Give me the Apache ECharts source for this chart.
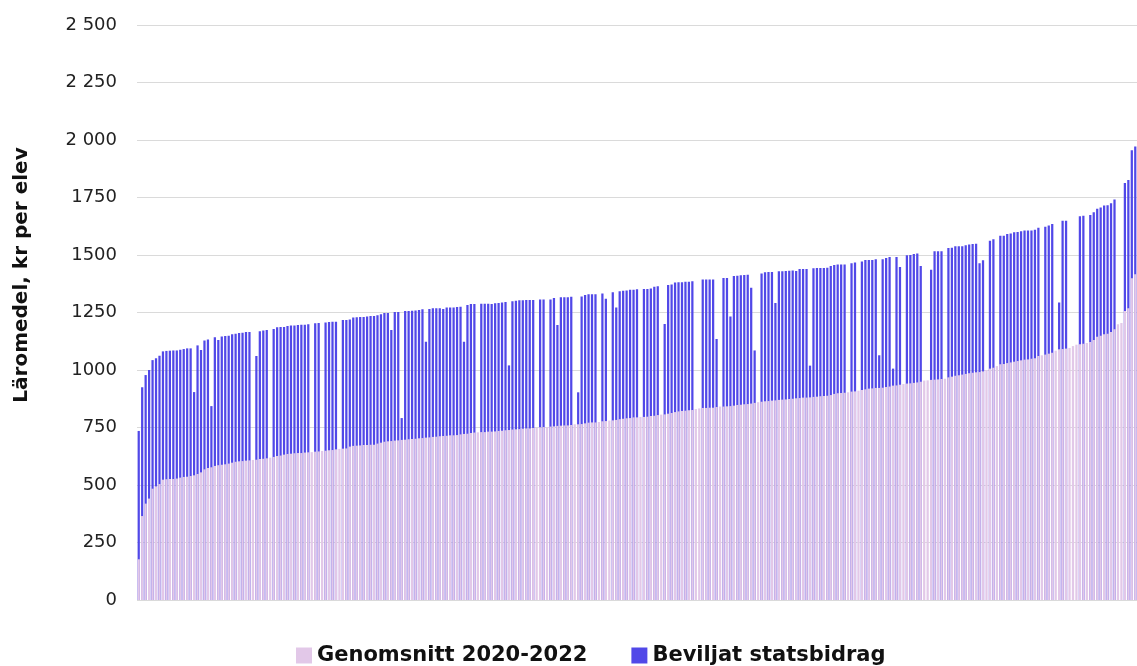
<!DOCTYPE html>
<html>
<head>
<meta charset="utf-8">
<script src="https://cdn.jsdelivr.net/npm/echarts@6/dist/echarts.min.js"></script>
<style>
  html, body { margin: 0; padding: 0; background: #fff; }
  #main { width: 1137px; height: 666px; }
</style>
</head>
<body>
<div id="main"></div>
<script>
// Genomsnitt 2020-2022 (kr per elev), one value per kommun, sorted
var genomsnitt = [
  177,365,419,441,484,494,504,523,525,526,526,528,532,535,536,539,542,548,555,568,574,577,583,586,588,590,593,597,
  601,603,604,606,607,609,610,613,614,616,619,622,626,628,632,635,636,638,639,639,641,642,643,645,646,648,649,651,652,
  655,657,658,659,667,670,671,672,674,674,675,675,680,684,688,690,691,693,694,696,697,699,700,701,703,704,706,707,709,
  710,712,713,714,716,716,717,720,722,723,726,728,729,730,730,732,732,733,735,736,738,739,741,742,743,745,746,746,748,
  749,751,752,752,754,755,757,758,759,759,761,764,764,765,768,771,772,772,774,777,778,780,781,783,786,788,790,791,794,
  794,796,796,797,800,801,804,806,807,810,813,817,820,822,823,825,826,830,833,835,835,836,836,839,841,841,842,843,845,
  848,849,851,852,854,857,860,862,864,865,867,868,870,871,872,874,875,877,878,880,880,881,883,884,886,887,888,891,896,899,
  900,901,903,906,907,910,913,916,919,920,922,922,923,926,928,932,933,936,939,941,942,944,946,949,954,955,957,958,959,
  961,962,968,971,975,977,980,983,986,988,990,991,994,1000,1006,1010,1017,1025,1026,1030,1033,1036,1039,1042,1045,1046,1049,1051,
  1061,1064,1067,1071,1075,1084,1090,1091,1093,1096,1104,1110,1112,1114,1117,1122,1130,1145,1149,1155,1158,1165,1177,1199,1204,1257,1268,1399,1416
];

// Genomsnitt + beviljat statsbidrag (top of the blue bar), null = inget bidrag
var medBidrag = [
  735,925,978,1000,1043,1051,1062,1081,1083,1084,1085,1085,1088,1091,1094,1094,904,1107,1087,1128,1133,843,1142,1130,1146,1148,1149,1155,
  1158,1161,1162,1165,1165,null,1061,1168,1172,1174,null,1178,1186,1187,1187,1191,1193,1194,1196,1197,1197,1199,null,1203,1204,null,1207,1209,1210,
  1210,null,1217,1217,1220,1228,1229,1230,1230,1233,1235,1235,1238,1242,1248,1248,1174,1252,1252,791,1257,1257,1258,1259,1261,1264,1123,1265,1268,
  1268,1268,1265,1272,1272,1272,1274,1275,1123,1283,1287,1287,null,1288,1288,1288,1287,1290,1291,1294,1296,1020,1299,1301,1303,1303,1304,1304,1304,
  null,1307,1307,null,1307,1313,1196,1316,1316,1316,1319,null,903,1320,1326,1329,1329,1329,null,1333,1310,null,1338,1272,1342,1345,1346,1349,1349,
  1351,null,1352,1352,1354,1362,1364,null,1200,1370,1372,1380,1381,1381,1384,1384,1386,null,null,1394,1394,1394,1394,1135,null,1400,1400,1233,1409,
  1410,1412,1413,1414,1358,1085,null,1420,1425,1426,1426,1291,1429,1429,1430,1432,1433,1430,1439,1439,1439,1019,1442,1443,1443,1443,1445,1452,1457,1459,
  1459,1459,null,1464,1467,null,1472,1478,1478,1478,1481,1064,1481,1487,1491,1006,1491,1448,null,1499,1500,1504,1507,1452,null,null,1436,1516,1516,
  1516,null,1530,1532,1538,1538,1538,1542,1546,1548,1549,1464,1477,null,1562,1568,null,1584,1584,1591,1594,1599,1600,1603,1606,1607,1607,1610,
  1619,null,1623,1628,1635,null,1294,1649,1649,null,null,null,1668,1671,null,1674,1686,1701,1706,1715,1716,1725,1741,null,null,1813,1826,1955,1972
];

var kommuner = genomsnitt.map(function (v, i) { return String(i + 1); });
var yTicks = { min: 0, max: 2500, interval: 250 };

var pink = '#e2c8e8';
var blue = '#5148e8';
var font = 'DejaVu Sans';

var myChart = echarts.init(document.getElementById('main'));
var option = {
  animation: false,
  grid: { left: 137, right: 0, top: 25, bottom: 66 },
  legend: {
    data: ['Genomsnitt 2020-2022', 'Beviljat statsbidrag'],
    left: 291,
    top: 640,
    icon: 'rect',
    itemWidth: 16,
    itemHeight: 16,
    itemGap: 44,
    textStyle: { fontFamily: font, fontWeight: 'bold', fontSize: 21, color: '#111' }
  },
  graphic: [{
    type: 'text',
    x: 22,
    y: 275,
    rotation: Math.PI / 2,
    style: {
      text: 'Läromedel, kr per elev',
      fontFamily: font,
      fontWeight: 'bold',
      fontSize: 20,
      fill: '#111',
      align: 'center',
      verticalAlign: 'middle'
    }
  }],
  xAxis: {
    type: 'category',
    data: kommuner,
    axisLine: { show: false },
    axisTick: { show: false },
    axisLabel: { show: false }
  },
  yAxis: {
    type: 'value',
    min: yTicks.min,
    max: yTicks.max,
    interval: yTicks.interval,
    axisLine: { show: false },
    axisTick: { show: false },
    splitLine: { lineStyle: { color: '#dadada', width: 1 } },
    axisLabel: {
      margin: 20,
      fontFamily: font,
      fontSize: 18,
      color: '#222',
      formatter: function (v) {
        return v >= 2000 ? String(v).replace(/(\d)(\d{3})$/, '$1 $2') : String(v);
      }
    }
  },
  series: [
    {
      name: 'Beviljat statsbidrag',
      type: 'bar',
      data: medBidrag,
      barCategoryGap: '35%',
      itemStyle: { color: blue }
    },
    {
      name: 'Genomsnitt 2020-2022',
      type: 'bar',
      data: genomsnitt,
      barGap: '-100%',
      barCategoryGap: '35%',
      itemStyle: { color: pink }
    }
  ]
};
myChart.setOption(option);
</script>
</body>
</html>
